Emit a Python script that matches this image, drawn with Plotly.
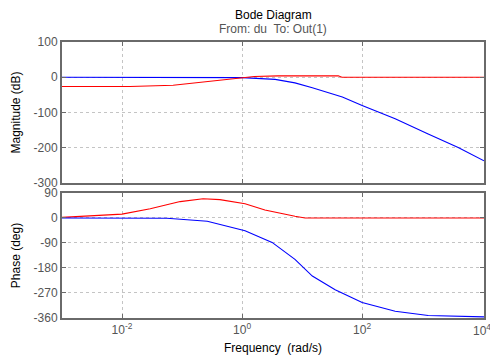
import plotly.graph_objects as go

# Frequencies (rad/s) and curves
freq_mag_blue = [0.001, 0.01, 0.1, 0.3, 1.0, 3.55, 7.6, 14.8, 46.8, 100, 355, 1259, 3981, 10715]
mag_blue = [0, 0, 0, -0.3, -1, -6, -16, -30, -56, -80, -118, -161, -199, -237]

freq_mag_red = [0.001, 0.0135, 0.071, 0.2, 0.5, 1.0, 1.6, 4.0, 10, 40, 46, 10715]
mag_red = [-26, -26, -22.5, -14, -7, -1, 2, 4, 4, 4, 0, 0]

freq_ph_red = [0.001, 0.0043, 0.01, 0.0295, 0.093, 0.224, 0.427, 1.12, 2.4, 7.6, 11.2, 10715]
ph_red = [2, 8, 14, 33, 59, 69, 66, 51, 29, 6, 0, 0]

freq_ph_blue = [0.001, 0.0316, 0.056, 0.263, 1.12, 3.16, 7.6, 14.8, 35.5, 100, 355, 1259, 10715]
ph_blue = [0, 0, -1, -12, -46, -88, -149, -209, -258, -304, -336, -351, -356]

mag_ticks = [100, 0, -100, -200, -300]
mag_labels = ["100", "0", "-100", "-200", "-300"]
ph_ticks = [90, 0, -90, -180, -270, -360]
ph_labels = ["90", "0", "-90", "-180", "-270", "-360"]
freq_ticks = [0.01, 1, 100]
freq_labels = ["10<sup>-2</sup>", "10<sup>0</sup>", "10<sup>2</sup>"]
edge_freq_tick = 10000
edge_freq_label = "10<sup>4</sup>"

fig = go.Figure()
fig.add_trace(go.Scatter(x=freq_mag_blue, y=mag_blue, mode="lines",
                         line=dict(color="#0000ff", width=1.1), xaxis="x", yaxis="y"))
fig.add_trace(go.Scatter(x=freq_mag_red, y=mag_red, mode="lines",
                         line=dict(color="#ff0000", width=1.1), xaxis="x", yaxis="y"))
fig.add_trace(go.Scatter(x=freq_ph_red, y=ph_red, mode="lines",
                         line=dict(color="#ff0000", width=1.1), xaxis="x2", yaxis="y2"))
fig.add_trace(go.Scatter(x=freq_ph_blue, y=ph_blue, mode="lines",
                         line=dict(color="#0000ff", width=1.1), xaxis="x2", yaxis="y2"))

tickfont = dict(family="Liberation Sans, Arial", size=12, color="#555555")
grid = dict(showgrid=True, gridcolor="#c4c4c4", griddash="dot", gridwidth=1,
            showline=True, linecolor="#6a6a6a", linewidth=2, mirror="ticks",
            ticks="inside", ticklen=4, tickcolor="#6a6a6a", zeroline=False,
            tickfont=tickfont, automargin=False)
common_x = dict(grid, type="log", range=[-3, 4.03], tickvals=freq_ticks, ticktext=freq_labels)

fig.update_layout(
    width=490, height=356,
    margin=dict(l=62, r=6, t=42, b=38),
    paper_bgcolor="white", plot_bgcolor="white",
    showlegend=False,
    font=dict(family="Liberation Sans, Arial", size=12, color="black"),
    xaxis=dict(common_x, domain=[0, 1], anchor="y", showticklabels=False),
    yaxis=dict(grid, domain=[0.489, 1], range=[-300, 100], tickvals=mag_ticks, ticktext=mag_labels,
               title=dict(text="Magnitude (dB)", font=dict(size=12, color="black"), standoff=10)),
    xaxis2=dict(common_x, domain=[0, 1], anchor="y2"),
    yaxis2=dict(grid, domain=[0, 0.453], range=[-360, 90], tickvals=ph_ticks, ticktext=ph_labels,
                title=dict(text="Phase (deg)", font=dict(size=12, color="black"), standoff=10)),
    annotations=[
        dict(text="Bode Diagram", x=0.5, y=1, xref="paper", yref="paper", yanchor="bottom",
             yshift=18, showarrow=False, font=dict(size=12, color="black")),
        dict(text="From: du  To: Out(1)", x=0.5, y=1, xref="paper", yref="paper", yanchor="bottom",
             yshift=4, showarrow=False, font=dict(size=12, color="#555555")),
        dict(text="Frequency  (rad/s)", x=0.5, y=0, xref="paper", yref="paper", yanchor="top",
             yshift=-21, showarrow=False, font=dict(size=12, color="black")),
        dict(text=edge_freq_label, x=4, y=0, xref="x2", yref="paper", yanchor="top",
             xanchor="center", yshift=-2, showarrow=False, font=tickfont),
    ],
)

fig.write_html("out.html", post_script="document.body.style.margin='0';",
               config={"displayModeBar": False})
